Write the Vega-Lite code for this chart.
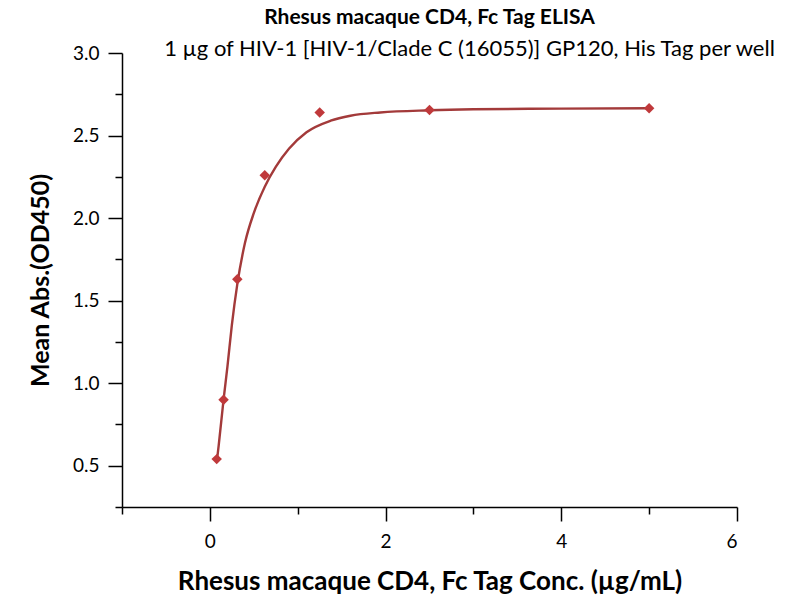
{
  "$schema": "https://vega.github.io/schema/vega-lite/v6.json",
  "width": 615,
  "height": 454,
  "autosize": "none",
  "padding": {"left": 122, "top": 53, "right": 63, "bottom": 93},
  "background": "white",
  "title": {
    "text": "Rhesus macaque CD4, Fc Tag ELISA",
    "font": "Lato",
    "fontSize": 21,
    "fontWeight": "bold",
    "color": "black",
    "anchor": "middle",
    "offset": 9
  },
  "config": {
    "view": {"stroke": null},
    "axis": {"grid": false, "domainColor": "black", "tickColor": "black", "labelColor": "black", "titleColor": "black", "domainWidth": 1.5, "tickWidth": 1.5}
  },
  "datasets": {
    "curve": [
      {"conc": 0.078, "od": 0.52},
      {"conc": 0.1, "od": 0.62},
      {"conc": 0.156, "od": 0.9},
      {"conc": 0.2, "od": 1.1},
      {"conc": 0.25, "od": 1.35},
      {"conc": 0.3125, "od": 1.6},
      {"conc": 0.4, "od": 1.85},
      {"conc": 0.5, "od": 2.03},
      {"conc": 0.625, "od": 2.19},
      {"conc": 0.75, "od": 2.31},
      {"conc": 0.9, "od": 2.42},
      {"conc": 1.1, "od": 2.52},
      {"conc": 1.375, "od": 2.59},
      {"conc": 1.6, "od": 2.62},
      {"conc": 1.94, "od": 2.64},
      {"conc": 2.5, "od": 2.653},
      {"conc": 3.0, "od": 2.659},
      {"conc": 4.0, "od": 2.663},
      {"conc": 5.0, "od": 2.665}
    ],
    "points": [
      {"conc": 0.078, "od": 0.54},
      {"conc": 0.156, "od": 0.9},
      {"conc": 0.3125, "od": 1.63},
      {"conc": 0.625, "od": 2.26},
      {"conc": 1.25, "od": 2.64},
      {"conc": 2.5, "od": 2.655},
      {"conc": 5.0, "od": 2.665}
    ]
  },
  "layer": [
    {
      "data": {"name": "curve"},
      "mark": {"type": "line", "color": "#a33a3a", "strokeWidth": 2.4, "interpolate": "monotone"},
      "encoding": {
        "x": {
          "field": "conc", "type": "quantitative",
          "scale": {"domain": [-1, 6], "nice": false, "zero": false},
          "axis": {
            "orient": "bottom",
            "title": "Rhesus macaque CD4, Fc Tag Conc. (µg/mL)",
            "titleFont": "Lato", "titleFontSize": 26, "titleFontWeight": "bold", "titlePadding": 17,
            "values": [-1, 0, 1, 2, 3, 4, 5, 6],
            "labelExpr": "datum.value % 2 === 0 ? datum.label : ''",
            "labelFont": "Lato", "labelFontSize": 19, "labelPadding": 11,
            "tickSize": {"condition": {"test": "datum.value % 2 === 0", "value": 14}, "value": 7}
          }
        },
        "y": {
          "field": "od", "type": "quantitative",
          "scale": {"domain": [0.25, 3.0], "nice": false, "zero": false},
          "axis": {
            "title": "Mean Abs.(OD450)",
            "titleFont": "Lato", "titleFontSize": 25, "titleFontWeight": "bold", "titlePadding": 19,
            "values": [0.25, 0.5, 0.75, 1.0, 1.25, 1.5, 1.75, 2.0, 2.25, 2.5, 2.75, 3.0],
            "labelExpr": "datum.value % 0.5 === 0 ? format(datum.value, '.1f') : ''",
            "labelFont": "Lato", "labelFontSize": 19, "labelPadding": 9,
            "tickSize": {"condition": {"test": "datum.value % 0.5 === 0", "value": 14}, "value": 7}
          }
        }
      }
    },
    {
      "data": {"name": "points"},
      "mark": {"type": "point", "shape": "diamond", "filled": true, "color": "#c0393b", "size": 110, "opacity": 1},
      "encoding": {
        "x": {
          "field": "conc", "type": "quantitative",
          "axis": {
            "orient": "top",
            "domain": false, "ticks": false, "labels": false,
            "title": "1 µg of HIV-1 [HIV-1/Clade C (16055)] GP120, His Tag per well",
            "titleFont": "Lato", "titleFontSize": 22, "titleFontWeight": "normal",
            "titleAnchor": null, "titleAlign": "center", "titleX": 347, "titleY": 2, "titleBaseline": "alphabetic"
          }
        },
        "y": {"field": "od", "type": "quantitative"}
      }
    }
  ],
  "resolve": {"axis": {"x": "independent"}}
}
